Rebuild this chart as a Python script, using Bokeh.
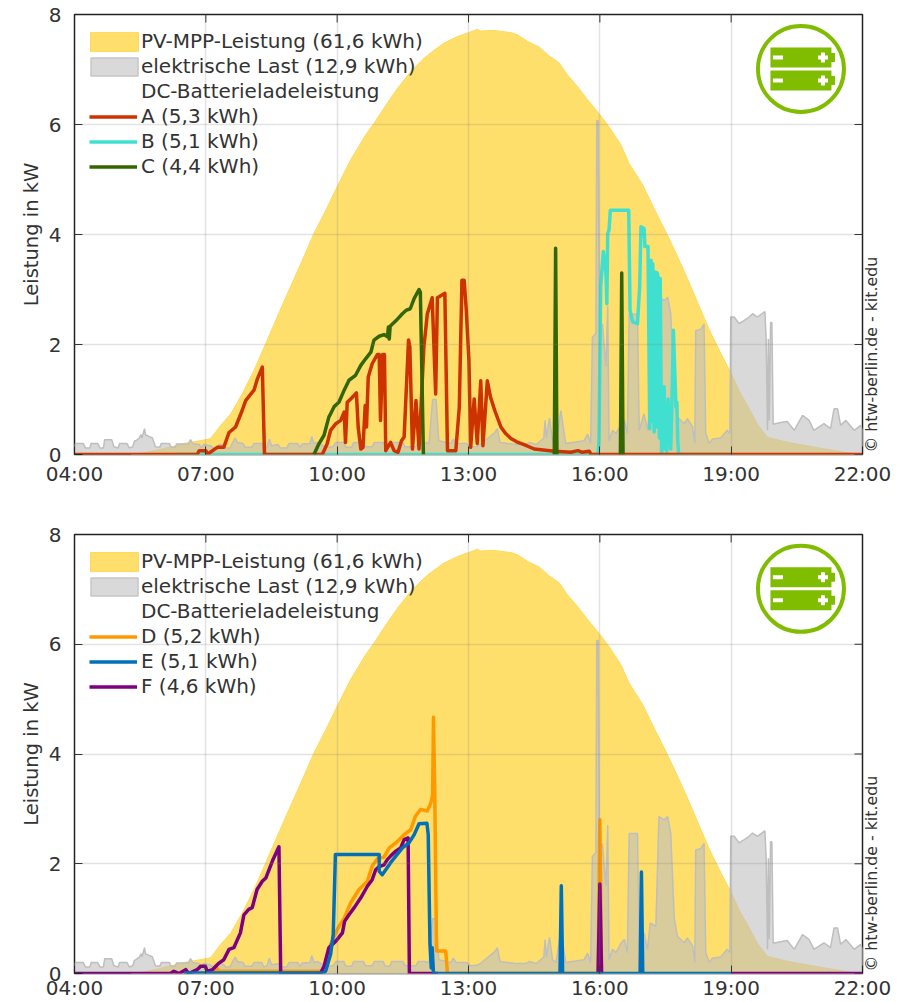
from math import pi
from bokeh.plotting import figure
from bokeh.layouts import column
from bokeh.models import Legend, LegendItem, FixedTicker, Label
from bokeh.embed import file_html
from bokeh.resources import INLINE

nan = float("nan")
tick_hours = [4, 7, 10, 13, 16, 19, 22]
tick_labels = ["04:00", "07:00", "10:00", "13:00", "16:00", "19:00", "22:00"]
y_ticks = [0, 2, 4, 6, 8]

pv_t = [5.3,5.6,6.0,6.5,7.0,7.11,7.34,7.57,7.83,8.1,8.37,8.63,8.9,9.17,9.47,9.74,10.0,10.31,10.65,10.84,11.07,11.38,11.68,11.99,12.18,12.44,12.75,13.0,13.2,13.28,13.58,13.97,14.12,14.35,14.61,14.84,15.07,15.26,15.49,15.72,15.91,15.98,16.21,16.48,16.67,16.98,17.24,17.47,17.74,18.0,18.31,18.54,18.77,19.0,19.2,19.4,19.6,19.83,20.3,21.0,21.9,22.0]
pv_p = [0,.03,.1,.2,.27,.29,.53,.74,1.1,1.53,2.02,2.5,2.99,3.47,4.02,4.44,4.87,5.36,5.81,6.02,6.3,6.66,6.96,7.21,7.33,7.48,7.6,7.67,7.73,7.7,7.71,7.67,7.63,7.51,7.41,7.25,7.12,6.9,6.69,6.45,6.27,6.2,5.96,5.63,5.29,4.9,4.47,4.11,3.66,3.2,2.62,2.2,1.83,1.47,1.13,.85,.55,.31,.22,.12,0,0]

load_t = [4.0,4.02,4.2,4.25,4.35,4.38,4.53,4.58,4.66,4.69,4.85,4.9,5.0,5.03,5.2,5.25,5.33,5.37,5.4,5.48,5.52,5.54,5.6,5.62,5.7,5.78,5.85,5.95,5.98,6.17,6.2,6.3,6.33,6.6,6.65,6.7,6.85,6.9,6.95,7.1,7.17,7.25,7.3,7.4,7.45,7.55,7.6,7.67,7.72,7.85,7.9,8.05,8.1,8.28,8.32,8.4,8.45,8.5,8.65,8.7,8.85,8.9,9.1,9.15,9.2,9.38,9.42,9.47,9.55,9.73,9.9,9.97,10.15,10.2,10.33,10.38,10.6,10.65,10.8,10.85,11.05,11.1,11.2,11.25,11.5,11.55,11.8,11.85,12.0,12.1,12.18,12.26,12.32,12.5,12.6,12.65,12.72,12.95,13.05,13.2,13.3,13.45,13.6,13.66,13.72,13.9,14.1,14.3,14.4,14.55,14.72,14.75,14.78,14.85,14.92,15.0,15.11,15.22,15.64,15.72,15.79,15.83,15.91,15.93,15.96,15.99,16.06,16.1,16.14,16.18,16.21,16.29,16.37,16.48,16.56,16.63,16.67,16.86,16.9,17.01,17.09,17.15,17.28,17.35,17.47,17.55,17.62,17.7,17.77,17.93,18.0,18.12,18.17,18.19,18.31,18.38,18.42,18.5,18.57,18.76,18.91,18.97,18.99,19.07,19.18,19.3,19.41,19.49,19.6,19.77,19.8,19.83,19.85,19.87,19.9,19.93,19.96,20.13,20.28,20.44,20.63,20.78,20.89,21.12,21.27,21.35,21.43,21.5,21.62,21.81,21.96,22.0]
load_p = [.12,.2,.2,.12,.12,.2,.2,.12,.12,.27,.27,.14,.12,.2,.2,.12,.14,.24,.25,.3,.36,.3,.47,.36,.33,.3,.14,.13,.2,.2,.13,.13,.19,.19,.27,.2,.18,.12,.18,.16,.12,.12,.18,.17,.12,.12,.2,.3,.22,.2,.13,.13,.2,.2,.12,.14,.28,.16,.18,.12,.12,.2,.2,.13,.19,.2,.33,.2,.22,.13,.14,.22,.22,.13,.13,.22,.22,.14,.14,.22,.22,.13,.13,.22,.22,.14,.14,.22,.22,.2,1.0,1.0,.25,.22,.2,.28,.2,.2,.14,.15,.2,.3,.4,.47,.22,.2,.18,.18,.22,.18,.3,.62,.3,.66,.25,.2,.8,.2,.25,.37,.2,2.13,2.2,6.07,6.07,2.2,2.37,1.95,1.6,2.7,.25,.44,.38,.55,.62,.38,2.55,2.55,.44,.74,.44,.92,.86,2.86,2.8,2.86,2.55,1.0,.68,.56,.65,.5,.2,2.25,2.28,2.37,.38,.2,.28,.3,.44,.38,2.5,2.5,2.38,2.44,2.5,2.56,2.5,2.6,2.1,.44,2.1,.62,2.4,2.4,.55,.58,.6,.44,.71,.62,.44,.56,.47,.83,.83,.53,.62,.44,.53,.44]

a_t = [4.0,6.8,6.85,7.0,7.03,7.26,7.41,7.53,7.68,7.83,7.91,8.1,8.18,8.29,8.34,9.66,9.77,9.85,9.97,10.08,10.16,10.19,10.23,10.31,10.44,10.48,10.54,10.59,10.64,10.67,10.71,10.8,10.92,10.96,10.99,11.04,11.08,11.11,11.22,11.3,11.39,11.47,11.53,11.63,11.66,11.72,11.8,11.87,11.98,12.06,12.17,12.25,12.29,12.46,12.52,12.71,12.79,12.85,12.9,12.95,13.01,13.05,13.13,13.2,13.28,13.33,13.43,13.5,13.6,13.74,13.85,13.97,14.1,14.27,14.5,14.96,15.34,15.5,15.6,15.76,15.8,22.0]
a_p = [0,0,.07,.07,0,.13,.13,.4,.5,.8,.98,1.17,1.38,1.59,0,0,.19,.44,.56,.62,.77,.22,.95,1.01,1.12,.5,.1,.13,.89,.5,1.41,1.65,1.82,1.82,.62,1.82,1.82,.07,.22,.07,.04,.25,.32,2.08,1.96,.1,.98,.1,1.95,2.56,2.85,1.1,2.85,2.93,.07,.07,.86,3.17,3.17,2.62,1.71,.13,1.01,.2,1.34,.16,1.34,1.05,.8,.5,.38,.29,.23,.18,.1,.06,.04,.07,.04,.06,0,0]

b_t = [6.3,15.96,15.98,16.02,16.08,16.14,16.16,16.18,16.21,16.24,16.66,16.69,16.75,16.86,16.91,16.94,17.01,17.03,17.1,17.14,17.17,17.19,17.21,17.24,17.27,17.29,17.31,17.33,17.36,17.38,17.41,17.43,17.47,17.49,17.51,17.53,17.56,17.58,17.6,17.62,17.64,17.68,17.74,17.76,17.78,17.8,19.0]
b_p = [0,0,.25,3.05,3.69,3.29,2.74,4.02,4.08,4.44,4.44,2.62,2.41,2.38,3.05,4.14,4.11,3.78,3.78,.47,3.53,.6,3.47,.41,3.32,.5,3.3,3.23,.3,3.2,0,.2,1.23,.1,.8,.05,1.01,.2,.85,.1,.7,2.26,.86,.95,.25,0,0]

c_t = [9.47,9.58,9.7,9.81,9.85,9.93,10.04,10.16,10.27,10.42,10.54,10.65,10.77,10.84,10.96,11.07,11.15,11.17,11.19,11.21,11.34,11.49,11.57,11.67,11.76,11.87,11.9,11.97,nan,14.96,14.99,15.02,nan,16.47,16.5,16.53]
c_p = [0,.19,.35,.68,.74,.87,.95,1.17,1.35,1.44,1.62,1.74,1.86,2.08,2.15,2.18,2.14,2.32,2.1,2.33,2.43,2.56,2.62,2.65,2.84,3.0,2.95,0,nan,0,3.75,0,nan,0,3.3,0]

d_t = [7.19,7.22,7.3,9.62,9.66,9.74,9.85,10.0,10.16,10.31,10.5,10.69,10.8,10.92,11.07,11.19,11.34,11.53,11.68,11.79,11.91,12.06,12.14,12.18,12.2,12.23,12.27,12.48,12.52,15.96,16.0,16.04]
d_p = [0,.13,.04,.04,.07,.16,.53,.8,1.01,1.29,1.53,1.68,1.96,2.09,2.12,2.29,2.38,2.53,2.62,2.87,2.99,2.96,3.11,3.25,4.67,3.26,.41,.41,0,0,2.8,0]

e_t = [6.5,9.7,9.74,9.85,9.91,9.96,10.96,10.96,11.03,11.11,11.22,11.34,11.49,11.64,11.76,11.87,12.05,12.08,12.12,12.15,12.17,12.2,15.09,15.12,15.15,16.92,16.95,16.98,19.0]
e_p = [.01,.01,.05,.35,.71,2.17,2.17,1.86,1.8,1.89,2.02,2.14,2.29,2.38,2.53,2.73,2.74,2.53,.53,.1,.47,0,0,1.6,0,0,1.85,0,0]

f_t = [4.0,6.19,6.27,6.39,6.54,6.61,6.80,6.88,6.99,7.03,7.15,7.30,7.41,7.53,7.64,7.79,7.87,7.98,8.06,8.17,8.29,8.37,8.52,8.67,8.71,9.62,9.7,9.81,9.97,10.12,10.17,10.27,10.39,10.54,10.69,10.8,10.88,10.96,11.07,11.15,11.22,11.34,11.45,11.53,11.62,11.65,12.3,nan,15.96,16.0,16.04,nan,19.0,22.0]
f_p = [0,0,.04,0,.07,0,.07,.13,.13,.04,.07,.19,.25,.44,.47,.74,1.07,1.17,1.2,1.53,1.68,1.74,2.05,2.31,0,0,.13,.47,.59,.74,.95,1.07,1.2,1.38,1.59,1.71,1.89,1.95,1.98,2.08,2.14,2.23,2.29,2.44,2.47,0,0,nan,0,1.63,0,nan,0,0]

PV_COLOR, LOAD_COLOR, ICON = "#FFDF6B", "#BEBEBE", "#80BC00"
TXT = "#333333"
FONT = "DejaVu Sans"

series_top = [("A (5,3 kWh)", a_t, a_p, "#CC3300"), ("B (5,1 kWh)", b_t, b_p, "#40E0D0"), ("C (4,4 kWh)", c_t, c_p, "#336600")]
series_bot = [("D (5,2 kWh)", d_t, d_p, "#FF9900"), ("E (5,1 kWh)", e_t, e_p, "#0070B8"), ("F (4,6 kWh)", f_t, f_p, "#7F007F")]


def make_panel(series, order, top, bottom, height, x_standoff):
    p = figure(width=905, height=height, x_range=(4, 22), y_range=(0, 8),
               output_backend="svg", toolbar_location=None,
               min_border_left=74, min_border_right=43, min_border_top=top, min_border_bottom=bottom)
    p.outline_line_color = "#222222"
    p.outline_line_width = 1.5

    ax, ay = p.xaxis[0], p.yaxis[0]
    ax.ticker = FixedTicker(ticks=tick_hours)
    ax.major_label_overrides = dict(zip(tick_hours, tick_labels))
    ay.ticker = FixedTicker(ticks=y_ticks)
    ay.axis_label = "Leistung in kW"
    ay.axis_label_text_font = FONT
    ay.axis_label_text_font_size = "19.5px"
    ay.axis_label_text_font_style = "normal"
    ay.axis_label_text_color = TXT
    ay.axis_label_standoff = 3
    ax.major_label_standoff = x_standoff
    ay.major_label_standoff = 13
    for a in (ax, ay):
        a.major_label_text_font = FONT
        a.major_label_text_font_size = "20px"
        a.major_label_text_color = TXT
        a.major_tick_in = 8
        a.major_tick_out = 0
        a.minor_tick_in = 0
        a.minor_tick_out = 0
        a.major_tick_line_color = "#222222"
        a.axis_line_color = None

    for g in (p.xgrid[0], p.ygrid[0]):
        g.level = "overlay"
        g.grid_line_color = "#808080"
        g.grid_line_alpha = 0.22
        g.grid_line_width = 1.5
    p.xgrid[0].ticker = FixedTicker(ticks=tick_hours)
    p.ygrid[0].ticker = FixedTicker(ticks=y_ticks)

    p.patch([pv_t[0]] + pv_t + [pv_t[-1]], [0] + pv_p + [0],
            fill_color=PV_COLOR, line_color="#FFD95A", line_width=1)
    p.patch([load_t[0]] + load_t + [load_t[-1]], [0] + load_p + [0],
            fill_color=LOAD_COLOR, fill_alpha=0.59, line_color="#BEBEBE", line_width=1.5)
    r_blank = p.line([4, 4], [0, 0], line_alpha=0)

    lines = {}
    for idx in order:
        label, t, v, col = series[idx]
        lines[idx] = p.line(t, v, line_color=col, line_width=3.5, line_join="round")

    items = [LegendItem(label="PV-MPP-Leistung (61,6 kWh)", renderers=[r_blank]),
             LegendItem(label="elektrische Last (12,9 kWh)", renderers=[r_blank]),
             LegendItem(label="DC-Batterieladeleistung", renderers=[r_blank])]
    items += [LegendItem(label=series[i][0], renderers=[lines[i]]) for i in range(3)]
    leg = Legend(items=items, location="top_left", margin=15, padding=1,
                 background_fill_alpha=0, border_line_color=None,
                 label_text_font=FONT, label_text_font_size="20px", label_text_color=TXT,
                 label_standoff=4, glyph_width=48, glyph_height=19, label_height=19, spacing=1)
    p.add_layout(leg, "center")

    # area legend keys at full key size (the library's area keys are drawn smaller)
    key_x = 4 + 40 / 43.75
    p.rect([key_x], [8 - 27.5 / 54.9], width=48, height=19, width_units="screen", height_units="screen",
           fill_color=PV_COLOR, line_color="#FFD95A")
    p.rect([key_x], [8 - 52.5 / 54.9], width=47, height=18, width_units="screen", height_units="screen",
           fill_color="#D9D9D9", line_color="#C6C6C6", line_width=1.5)

    # ticks along the top and right edges
    p.ray(tick_hours, [8] * 7, length=8, length_units="screen", angle=-pi / 2, line_color="#222222", line_width=1)
    p.ray([22] * 5, y_ticks, length=8, length_units="screen", angle=pi, line_color="#222222", line_width=1)

    # battery icon
    cx, cy = 20.594, 7.01
    p.scatter([cx], [cy], marker="circle", size=86, fill_color="white", line_color=ICON, line_width=4)
    for off in (-11.5, 11.5):
        yy = cy - off / 54.9
        p.rect([cx], [yy], width=61, height=20, width_units="screen", height_units="screen", fill_color=ICON, line_color=None)
        p.rect([cx + 32 / 43.75], [yy], width=4, height=9, width_units="screen", height_units="screen", fill_color=ICON, line_color=None)
        p.rect([cx - 23 / 43.75], [yy], width=10, height=4, width_units="screen", height_units="screen", fill_color="white", line_color=None)
        p.rect([cx + 22 / 43.75], [yy], width=10, height=4, width_units="screen", height_units="screen", fill_color="white", line_color=None)
        p.rect([cx + 22 / 43.75], [yy], width=4, height=10, width_units="screen", height_units="screen", fill_color="white", line_color=None)

    p.add_layout(Label(x=9, y=2, x_units="screen", y_units="screen", text="© htw-berlin.de - kit.edu",
                       angle=pi / 2, text_font=FONT, text_font_size="15.8px", text_color=TXT,
                       text_align="left", text_baseline="middle"), "right")
    return p


p1 = make_panel(series_top, [1, 0, 2], 14, 40, 494, 7)
p2 = make_panel(series_bot, [0, 2, 1], 40, 29, 508, 2)
page = column(p1, p2, spacing=0, height=1002, styles={"overflow": "hidden"})
open("out.html", "w").write(file_html(page, INLINE))
